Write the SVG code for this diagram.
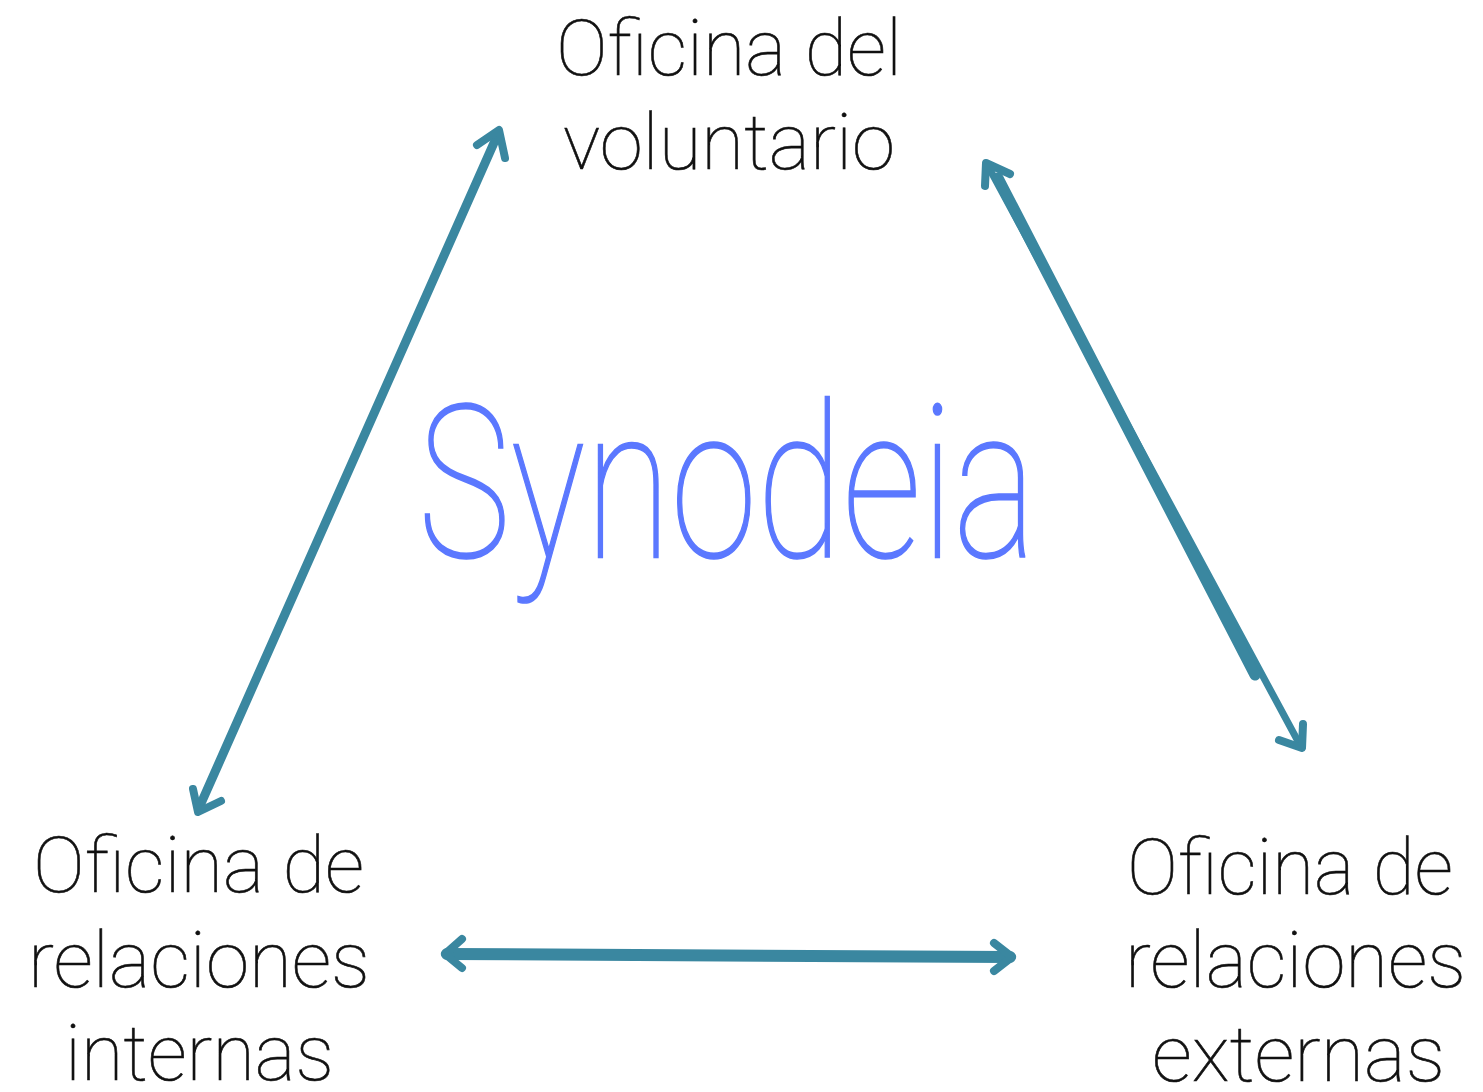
<svg xmlns="http://www.w3.org/2000/svg" width="1483" height="1092" viewBox="0 0 1483 1092">
  <style>
    .lbl { font-family: Roboto, "Liberation Sans", sans-serif; font-weight: 100; font-size: 78px; fill: #111; stroke: #111; stroke-width: 0.6px; }
    .title { font-family: Roboto, "Liberation Sans", sans-serif; font-weight: 100; font-size: 214px; fill: #5b78ff; stroke: #5b78ff; stroke-width: 1.6px; }
    .edge { stroke: #3a87a0; fill: none; stroke-linecap: round; stroke-linejoin: round; }
    .head { stroke: #3a87a0; fill: none; stroke-width: 8; stroke-linecap: round; stroke-linejoin: round; }
  </style>
  <rect width="1483" height="1092" fill="#ffffff"/>

  <g id="title">
    <text class="title" x="418" y="557" textLength="618" lengthAdjust="spacingAndGlyphs">Synodeia</text>
  </g>

  <g id="node-voluntario">
    <text class="lbl" x="556" y="75" textLength="346" lengthAdjust="spacingAndGlyphs">Oficina del</text>
    <text class="lbl" x="563" y="169" textLength="332" lengthAdjust="spacingAndGlyphs">voluntario</text>
  </g>

  <g id="node-internas">
    <text class="lbl" x="33" y="892" textLength="331" lengthAdjust="spacingAndGlyphs">Oficina de</text>
    <text class="lbl" x="28" y="987" textLength="342" lengthAdjust="spacingAndGlyphs">relaciones</text>
    <text class="lbl" x="65" y="1080" textLength="269" lengthAdjust="spacingAndGlyphs">internas</text>
  </g>

  <g id="node-externas">
    <text class="lbl" x="1127" y="894" textLength="326" lengthAdjust="spacingAndGlyphs">Oficina de</text>
    <text class="lbl" x="1125" y="987" textLength="341" lengthAdjust="spacingAndGlyphs">relaciones</text>
    <text class="lbl" x="1152" y="1081" textLength="293" lengthAdjust="spacingAndGlyphs">externas</text>
  </g>

  <g id="connectors">
    <!-- voluntario <-> internas -->
    <line class="edge" x1="497" y1="136" x2="199" y2="808" stroke-width="9"/>
    <polyline class="head" points="477,145 499,130 505,158"/>
    <polyline class="head" points="193,789 198,812 221,801"/>

    <!-- voluntario <-> externas -->
    <line class="edge" x1="988" y1="166" x2="1300" y2="745" stroke-width="7"/>
    <line class="edge" x1="998" y1="178" x2="1255" y2="675" stroke-width="11" stroke-linecap="butt"/>
    <polyline class="head" points="985,186 986,163 1010,174"/>
    <polyline class="head" points="1279,740 1302,748 1303,724"/>

    <!-- internas <-> externas -->
    <line class="edge" x1="447" y1="954" x2="1010" y2="957" stroke-width="12" stroke-linecap="butt"/>
    <polyline class="head" points="462,939 445,954 462,968"/>
    <polyline class="head" points="994,943 1012,957 994,971"/>
  </g>
</svg>
